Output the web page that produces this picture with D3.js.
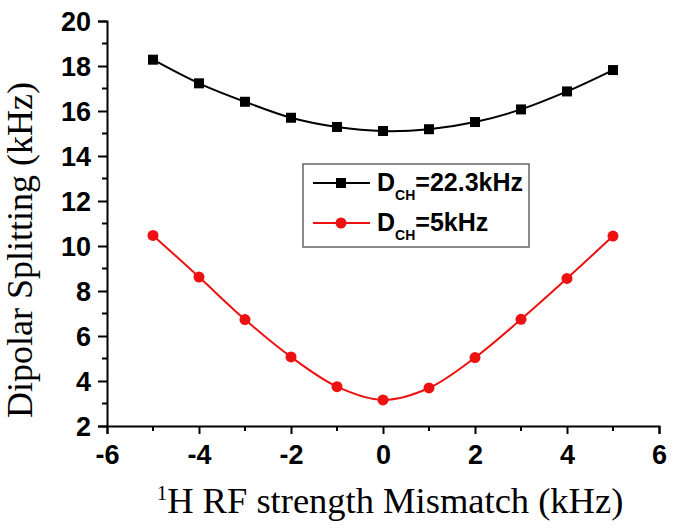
<!DOCTYPE html>
<html><head><meta charset="utf-8">
<script src="https://cdn.jsdelivr.net/npm/d3@7/dist/d3.min.js"></script>
<style>body{margin:0;background:#fff}</style>
</head><body>
<svg id="chart" width="675" height="530"></svg>
<script>
const mismatch = [-5,-4,-3,-2,-1,0,1,2,3,4,5];
const seriesBlack = [18.28,17.23,16.41,15.70,15.29,15.11,15.19,15.51,16.07,16.87,17.82];
const seriesRed = [10.47,8.62,6.73,5.07,3.75,3.16,3.69,5.04,6.74,8.56,10.44];
const xTicks = [-6,-4,-2,0,2,4,6];
const yTicks = [2,4,6,8,10,12,14,16,18,20];

const svg = d3.select("#chart");
const x = d3.scaleLinear().domain([-6,6]).range([107,659]);
const y = d3.scaleLinear().domain([2,20]).range([426,21]);

// minor ticks
const xMinor = d3.range(-5,6,2);
const yMinor = d3.range(3,20,2);
svg.append("g").selectAll("line").data(xMinor).join("line")
  .attr("x1",d=>x(d)).attr("x2",d=>x(d)).attr("y1",426).attr("y2",431)
  .attr("stroke","#000").attr("stroke-width",2);
svg.append("g").selectAll("line").data(yMinor).join("line")
  .attr("y1",d=>y(d)).attr("y2",d=>y(d)).attr("x1",107).attr("x2",102)
  .attr("stroke","#000").attr("stroke-width",2);

const xAxis = svg.append("g").attr("transform","translate(0,426)")
  .call(d3.axisBottom(x).tickValues(xTicks).tickSize(8).tickPadding(7).tickFormat(d=>String(d)));
const yAxis = svg.append("g").attr("transform","translate(107,0)")
  .call(d3.axisLeft(y).tickValues(yTicks).tickSize(9).tickPadding(7).tickFormat(d=>String(d)));
[xAxis,yAxis].forEach(g=>{
  g.select(".domain").attr("stroke","#000").attr("stroke-width",2);
  g.selectAll(".tick line").attr("stroke","#000").attr("stroke-width",2);
  g.selectAll("text").attr("fill","#000").style("font-family","Liberation Sans, Arial, sans-serif")
    .style("font-weight","bold").style("font-size","27px");
});
xAxis.selectAll("text").attr("dy","0.85em");
yAxis.selectAll("text").attr("dy","0.36em");

const line = d3.line().curve(d3.curveCatmullRom).x((d,i)=>x(mismatch[i])).y(d=>y(d));
svg.append("path").datum(seriesBlack).attr("d",line).attr("fill","none").attr("stroke","#000").attr("stroke-width",2);
svg.append("path").datum(seriesRed).attr("d",line).attr("fill","none").attr("stroke","#ee1111").attr("stroke-width",2);

svg.append("g").selectAll("rect").data(seriesBlack).join("rect")
  .attr("x",(d,i)=>x(mismatch[i])-5).attr("y",d=>y(d)-5).attr("width",10).attr("height",10).attr("fill","#000");
svg.append("g").selectAll("circle").data(seriesRed).join("circle")
  .attr("cx",(d,i)=>x(mismatch[i])).attr("cy",d=>y(d)).attr("r",5.5).attr("fill","#ee1111");

// legend
const lg = svg.append("g");
lg.append("rect").attr("x",303).attr("y",164).attr("width",226).attr("height",83)
  .attr("fill","#fff").attr("stroke","#666").attr("stroke-width",1.5);
const legendItems = [{name:"=22.3kHz",color:"#000",shape:"square",yy:183},{name:"=5kHz",color:"#ee1111",shape:"circle",yy:223}];
legendItems.forEach(it=>{
  lg.append("line").attr("x1",313).attr("x2",370).attr("y1",it.yy).attr("y2",it.yy).attr("stroke",it.color).attr("stroke-width",2);
  if(it.shape==="square") lg.append("rect").attr("x",336).attr("y",it.yy-5).attr("width",10).attr("height",10).attr("fill",it.color);
  else lg.append("circle").attr("cx",341).attr("cy",it.yy).attr("r",5.5).attr("fill",it.color);
  const t = lg.append("text").attr("x",377).attr("y",it.yy+8)
    .style("font-family","Liberation Sans, Arial, sans-serif").style("font-weight","bold").style("font-size","25px").attr("fill","#000");
  t.append("tspan").text("D");
  t.append("tspan").text("CH").style("font-size","14px").attr("dy",9);
  t.append("tspan").text(it.name).attr("dy",-9);
});

// axis titles
svg.append("text").attr("transform","translate(32,250) rotate(-90)").attr("text-anchor","middle")
  .style("font-family","Liberation Serif, Times New Roman, serif").style("font-size","36px").attr("fill","#000")
  .text("Dipolar Splitting (kHz)");
const xt = svg.append("text").attr("x",390).attr("y",513).attr("text-anchor","middle")
  .style("font-family","Liberation Serif, Times New Roman, serif").style("font-size","36.5px").attr("fill","#000");
xt.append("tspan").text("1").style("font-size","21px").attr("dy",-13);
xt.append("tspan").text("H RF strength Mismatch (kHz)").attr("dy",13);
</script>
</body></html>
